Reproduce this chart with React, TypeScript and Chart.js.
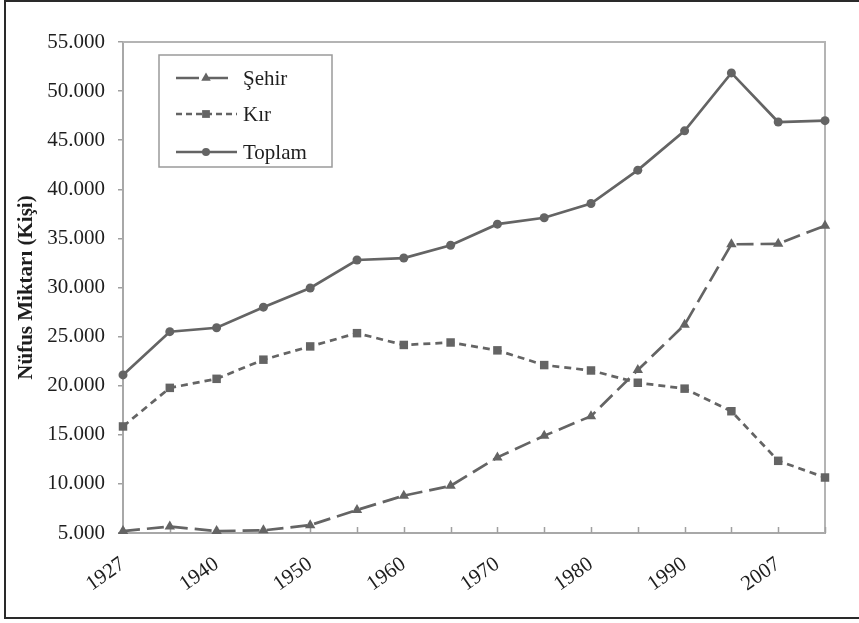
import React, { useEffect, useRef } from "react";
import { Chart, registerables } from "chart.js";

Chart.register(...registerables);

const years = ["1927", "1935", "1940", "1945", "1950", "1955", "1960", "1965", "1970", "1975", "1980", "1985", "1990", "2000", "2007", "2008"];
const sehir = [5200, 5650, 5200, 5270, 5800, 7350, 8800, 9800, 12700, 14900, 16900, 21600, 26200, 34400, 34450, 36300];
const kir = [15850, 19780, 20700, 22650, 24000, 25350, 24150, 24400, 23600, 22100, 21550, 20300, 19700, 17400, 12350, 10650];
const toplam = [21100, 25500, 25900, 28000, 29950, 32800, 33000, 34300, 36450, 37100, 38550, 41950, 45950, 51850, 46850, 46990];
const seriesNames = ["Şehir", "Kır", "Toplam"];
const yTitle = "Nüfus Miktarı (Kişi)";

const FONT = "'Liberation Serif', 'Times New Roman', serif";
const LINE = "#646464";
const TEXT = "#1e1e1e";

function fmt(v: number) {
  const s = String(Math.round(v));
  return s.replace(/\B(?=(\d{3})+(?!\d))/g, ".");
}

const frameBorder = {
  id: "frameBorder",
  beforeDatasetsDraw(chart: any) {
    const { ctx, chartArea } = chart;
    ctx.save();
    ctx.strokeStyle = "#b4b4b4";
    ctx.lineWidth = 2;
    ctx.beginPath();
    ctx.moveTo(chartArea.left, chartArea.top);
    ctx.lineTo(chartArea.right, chartArea.top);
    ctx.lineTo(chartArea.right, chartArea.bottom);
    ctx.stroke();
    // inward tick marks on the category axis
    const xs = chart.scales.x;
    ctx.strokeStyle = "#a0a0a0";
    ctx.lineWidth = 1.5;
    ctx.beginPath();
    for (let i = 0; i < xs.ticks.length; i++) {
      const px = Math.round(xs.getPixelForTick(i)) + 0.5;
      ctx.moveTo(px, chartArea.bottom);
      ctx.lineTo(px, chartArea.bottom - 6);
    }
    ctx.stroke();
    ctx.restore();
  },
};

function drawMarker(ctx: CanvasRenderingContext2D, style: string, r: number, x: number, y: number) {
  ctx.beginPath();
  if (style === "circle") {
    ctx.arc(x, y, r, 0, Math.PI * 2);
  } else if (style === "rect") {
    const s = r * Math.SQRT1_2;
    ctx.rect(x - s, y - s, 2 * s, 2 * s);
  } else {
    const a = Math.PI / 2;
    ctx.moveTo(x + Math.cos(-a) * r, y + Math.sin(-a) * r);
    ctx.lineTo(x + Math.cos(-a + (2 * Math.PI) / 3) * r, y + Math.sin(-a + (2 * Math.PI) / 3) * r);
    ctx.lineTo(x + Math.cos(-a + (4 * Math.PI) / 3) * r, y + Math.sin(-a + (4 * Math.PI) / 3) * r);
    ctx.closePath();
  }
  ctx.fill();
}

const boxLegend = {
  id: "boxLegend",
  afterDraw(chart: any) {
    const { ctx } = chart;
    const x0 = 159, y0 = 55, w = 173, h = 112;
    ctx.save();
    ctx.fillStyle = "#ffffff";
    ctx.fillRect(x0, y0, w, h);
    ctx.strokeStyle = "#9a9a9a";
    ctx.lineWidth = 1.5;
    ctx.strokeRect(x0, y0, w, h);
    const rows = [78, 114, 152];
    const ends = [231, 237, 237];
    const dashes = [[23, 6], [6, 4], []];
    chart.data.datasets.forEach((ds: any, i: number) => {
      const y = rows[i];
      ctx.save();
      ctx.strokeStyle = ds.borderColor;
      ctx.lineWidth = ds.borderWidth;
      ctx.setLineDash(dashes[i]);
      ctx.beginPath();
      ctx.moveTo(176, y);
      ctx.lineTo(ends[i], y);
      ctx.stroke();
      ctx.restore();
      ctx.save();
      ctx.fillStyle = ds.pointBackgroundColor;
      drawMarker(ctx, ds.pointStyle, ds.pointRadius - 0.5, 206, y);
      ctx.restore();
      ctx.fillStyle = TEXT;
      ctx.font = `21px ${FONT}`;
      ctx.textBaseline = "middle";
      ctx.textAlign = "left";
      ctx.fillText(ds.label, 243, y + 1);
    });
    ctx.restore();
  },
};

export default function App() {
  const ref = useRef<HTMLCanvasElement>(null);
  useEffect(() => {
    const canvas = ref.current!;
    const common = {
      borderColor: LINE,
      borderWidth: 2.7,
      pointBackgroundColor: LINE,
      pointBorderColor: LINE,
      pointBorderWidth: 0,
      tension: 0,
      clip: false,
    };
    const chart = new Chart(canvas, {
      type: "line",
      data: {
        labels: years,
        datasets: [
          { ...common, label: seriesNames[0], data: sehir, borderDash: [17, 7], pointStyle: "triangle", pointRadius: 6 } as any,
          { ...common, label: seriesNames[1], data: kir, borderDash: [7, 5], pointStyle: "rect", pointRadius: 6 } as any,
          { ...common, label: seriesNames[2], data: toplam, pointStyle: "circle", pointRadius: 4.5 } as any,
        ],
      },
      options: {
        animation: false,
        responsive: false,
        maintainAspectRatio: false,
        layout: { padding: { left: 0, top: 42, right: 34, bottom: 0 } },
        plugins: {
          legend: { display: false },
          tooltip: { enabled: false },
        },
        scales: {
          x: {
            type: "category",
            offset: false,
            afterFit: (s: any) => {
              s.height = 90;
            },
            grid: {
              display: true,
              drawOnChartArea: false,
              drawTicks: false,
            },
            border: { display: true, color: "#a8a8a8", width: 2 },
            ticks: {
              autoSkip: false,
              maxRotation: 35,
              minRotation: 35,
              padding: 19,
              color: TEXT,
              font: { family: FONT, size: 21 },
              callback: function (this: any, _v: any, i: number) {
                return i % 2 === 0 ? years[i] : "";
              },
            },
          },
          y: {
            min: 5000,
            max: 55000,
            afterFit: (s: any) => {
              s.width = 123;
            },
            grid: {
              display: true,
              drawOnChartArea: false,
              drawTicks: true,
              tickLength: 5,
              color: "#a0a0a0",
              lineWidth: 1.5,
            },
            border: { display: true, color: "#a8a8a8", width: 2 },
            ticks: {
              stepSize: 5000,
              padding: 13,
              color: TEXT,
              font: { family: FONT, size: 21 },
              callback: (v: any) => fmt(Number(v)),
            },
            title: {
              display: true,
              text: yTitle,
              color: TEXT,
              font: { family: FONT, size: 21, weight: "bold" },
              padding: { top: 14, bottom: 0 },
            },
          },
        },
      },
      plugins: [frameBorder, boxLegend],
    });
    return () => chart.destroy();
  }, []);

  return (
    <div style={{ position: "absolute", left: 0, top: 0, width: 859, height: 623, overflow: "hidden", background: "#fff" }}>
      <canvas ref={ref} width={859} height={623} style={{ position: "absolute", left: 0, top: 0, width: 859, height: 623 }} />
      <div
        style={{
          position: "absolute",
          left: 4,
          top: 0,
          width: 900,
          height: 615,
          borderLeft: "2.5px solid #2a2a2a",
          borderTop: "2px solid #2a2a2a",
          borderBottom: "2.5px solid #2a2a2a",
          pointerEvents: "none",
        }}
      />
    </div>
  );
}
